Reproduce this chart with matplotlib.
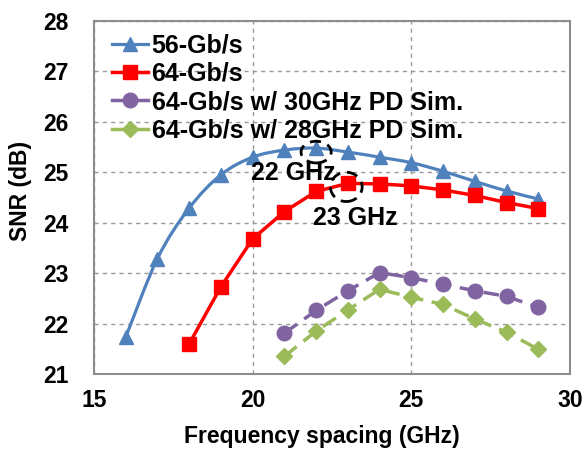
import matplotlib
matplotlib.use("Agg")
import matplotlib.pyplot as plt
from matplotlib.path import Path
from matplotlib.patches import PathPatch, Ellipse
import numpy as np

# ---- data ----
x56 = [16, 17, 18, 19, 20, 21, 22, 23, 24, 25, 26, 27, 28, 29]
snr56 = [21.73, 23.29, 24.29, 24.95, 25.30, 25.44, 25.48, 25.40, 25.30, 25.19, 25.02, 24.82, 24.63, 24.47]
x64 = [18, 19, 20, 21, 22, 23, 24, 25, 26, 27, 28, 29]
snr64 = [21.60, 22.73, 23.68, 24.22, 24.62, 24.78, 24.77, 24.73, 24.65, 24.54, 24.40, 24.28]
xsim = [21, 22, 23, 24, 25, 26, 27, 28, 29]
snr30 = [21.81, 22.26, 22.65, 23.01, 22.91, 22.78, 22.65, 22.54, 22.32]
snr28 = [21.35, 21.85, 22.27, 22.68, 22.52, 22.38, 22.09, 21.83, 21.49]
labels = ["56-Gb/s", "64-Gb/s", "64-Gb/s w/ 30GHz PD Sim.", "64-Gb/s w/ 28GHz PD Sim."]
xticks = [15, 20, 25, 30]
yticks = [21, 22, 23, 24, 25, 26, 27, 28]

BLUE = "#4F81BD"
RED = "#FF0000"
PURPLE = "#8064A2"
GREEN = "#9BBB59"

plt.rcParams['font.family'] = ['Liberation Sans', 'DejaVu Sans']
plt.rcParams['font.weight'] = 'bold'

fig = plt.figure(figsize=(5.85, 4.51), dpi=100)
ax = fig.add_axes([94/585, 1-374/451, (570-94)/585, (374-21)/451])

def smooth_path(xs, ys):
    P = np.column_stack([xs, ys]).astype(float)
    n = len(P)
    verts = [P[0]]
    codes = [Path.MOVETO]
    for i in range(n-1):
        p0 = P[i-1] if i > 0 else P[i]
        p1 = P[i]
        p2 = P[i+1]
        p3 = P[i+2] if i+2 < n else P[i+1]
        c1 = p1 + (p2 - p0) / 6.0
        c2 = p2 - (p3 - p1) / 6.0
        verts += [c1, c2, p2]
        codes += [Path.CURVE4]*3
    return Path(verts, codes)

# blue smoothed line
ax.add_patch(PathPatch(smooth_path(x56, snr56), facecolor='none', edgecolor=BLUE, lw=2.3, zorder=3))
ax.plot(x56, snr56, ls='none', marker='^', ms=10.5, color=BLUE, zorder=4)
ax.plot(x64, snr64, '-', marker='s', ms=10, color=RED, lw=2.5, zorder=4)
ax.plot(xsim, snr30, ls=(0, (4.5, 2.5)), marker='o', ms=10.5, color=PURPLE, lw=2.5, zorder=4)
ax.plot(xsim, snr28, ls=(0, (4.5, 2.5)), marker='D', ms=8, color=GREEN, lw=2.5, zorder=4)

# legend proxies
h1, = ax.plot([], [], '-', marker='^', ms=10.5, color=BLUE, lw=2.3)
h2, = ax.plot([], [], '-', marker='s', ms=10, color=RED, lw=2.5)
h3, = ax.plot([], [], '-', marker='o', ms=10.5, color=PURPLE, lw=2.5)
h4, = ax.plot([], [], '-', marker='D', ms=8, color=GREEN, lw=2.5)
leg = ax.legend([h1, h2, h3, h4], labels, loc='upper left', bbox_to_anchor=(0.0, 1.014),
                frameon=False, fontsize=18, handlelength=1.45, handletextpad=0.15,
                labelspacing=0.17, borderaxespad=0.3)
for t in leg.get_texts():
    t.set_fontweight('bold')

# annotations
ax.add_patch(Ellipse((22.0, 25.4), 0.95, 0.43, fill=False, ls=(0, (4, 2.5)), lw=2, color='black', zorder=5))
ax.add_patch(Ellipse((22.95, 24.71), 1.0, 0.58, fill=False, ls=(0, (4, 2.5)), lw=2, color='black', zorder=5))
ax.text(21.29, 24.99, "22 GHz", ha='center', va='center', fontsize=18, fontweight='bold', zorder=6)
ax.text(23.22, 24.09, "23 GHz", ha='center', va='center', fontsize=18, fontweight='bold', zorder=6)

ax.set_xlim(15, 30)
ax.set_ylim(21, 28)
ax.set_xticks(xticks)
ax.set_yticks(yticks)
ax.tick_params(length=0, labelsize=16.5, pad=11)
ax.tick_params(axis='y', pad=18)
for lab in ax.get_xticklabels() + ax.get_yticklabels():
    lab.set_fontweight('bold')
ax.grid(True, ls=(0, (3, 3)), color='#999999', lw=1)
ax.set_axisbelow(True)
for s in ax.spines.values():
    s.set_color('#8C8C8C')
    s.set_linewidth(1.5)

fig.text(322/585, 1-436/451, "Frequency spacing (GHz)", ha='center', va='center', fontsize=16.5, fontweight='bold')
fig.text(21/585, 1-191/451, "SNR (dB)", ha='center', va='center', rotation=90, fontsize=16.5, fontweight='bold')

fig.savefig("out.png", dpi=100)
